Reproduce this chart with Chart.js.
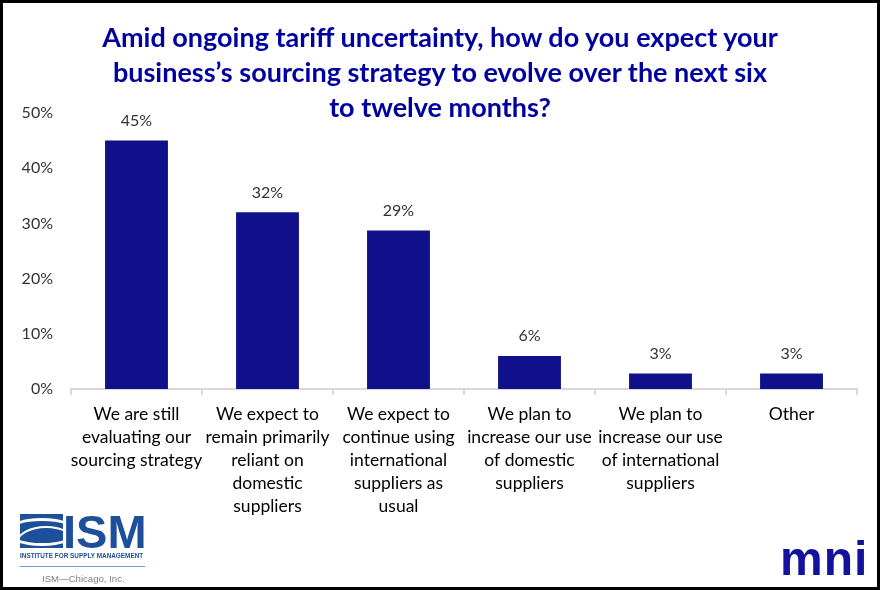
<!DOCTYPE html>
<html>
<head>
<meta charset="utf-8">
<script src="https://cdn.jsdelivr.net/npm/chart.js@4/dist/chart.umd.min.js"></script>
<style>
  body { margin: 0; background: #fff; }
  #frame { position: relative; width: 880px; height: 590px; overflow: hidden; background: #fff; }
  #chart { position: absolute; left: 0; top: 0; }
  #border { position: absolute; left: 0; top: 0; width: 880px; height: 590px; box-sizing: border-box; border: 3px solid #000; pointer-events: none; }
  #title { position: absolute; left: 0; top: 19px; width: 880px; text-align: center; font: bold 27px Lato, sans-serif; line-height: 35px; color: #0000a0; }
  .ism-icon { position: absolute; left: 20px; top: 514px; width: 43px; height: 34px; background: #1d4f9a; overflow: hidden; }
  .ism-icon .sw { position: absolute; border: 3px solid #fff; border-radius: 50%; }
  .ism-word { position: absolute; left: 63px; top: 504px; font: bold 47px "Liberation Sans", Arial, sans-serif; color: #1d4f9a; letter-spacing: 0px; }
  .ism-sub { position: absolute; left: 20px; top: 552px; font: bold 6.4px "Liberation Sans", Arial, sans-serif; color: #1d4f9a; white-space: nowrap; }
  .ism-line { position: absolute; left: 20px; top: 566px; width: 125px; height: 1px; background: #6a9bd6; }
  .ism-city { position: absolute; left: 42px; top: 573px; font: 9.6px "Liberation Sans", Arial, sans-serif; color: #808080; white-space: nowrap; }
  .mni { position: absolute; left: 780px; top: 531px; font: bold 48px "Liberation Sans", Arial, sans-serif; color: #12129e; letter-spacing: 1px; }
</style>
</head>
<body>
<div id="frame">
  <canvas id="chart" width="880" height="590"></canvas>
  <div id="title">Amid ongoing tariff uncertainty, how do you expect your<br>business’s sourcing strategy to evolve over the next six<br>to twelve months?</div>
  <div class="ism-icon">
    <div class="sw" style="left:-14px; top:4px; width:66px; height:22px;"></div>
    <div class="sw" style="left:-4px; top:12px; width:56px; height:30px; border-width:2px;"></div>
  </div>
  <div class="ism-word">ISM</div>
  <div class="ism-sub">INSTITUTE FOR SUPPLY MANAGEMENT</div>
  <div class="ism-line"></div>
  <div class="ism-city">ISM—Chicago, Inc.</div>
  <div class="mni">mni</div>
  <div id="border"></div>
</div>
<script>
  "use strict";

  const categories = [
    ['We are still', 'evaluating our', 'sourcing strategy'],
    ['We expect to', 'remain primarily', 'reliant on', 'domestic', 'suppliers'],
    ['We expect to', 'continue using', 'international', 'suppliers as', 'usual'],
    ['We plan to', 'increase our use', 'of domestic', 'suppliers'],
    ['We plan to', 'increase our use', 'of international', 'suppliers'],
    ['Other']
  ];
  const shares = [45, 32, 28.7, 6, 2.8, 2.8];
  const yTicks = [0, 10, 20, 30, 40, 50];

  const barColor = '#10108a';
  const textColor = '#333333';

  // value labels above each bar
  const valueLabels = {
    id: 'valueLabels',
    afterDatasetsDraw(chart) {
      const ctx = chart.ctx;
      const meta = chart.getDatasetMeta(0);
      ctx.save();
      ctx.font = '16px Lato, sans-serif';
      ctx.fillStyle = textColor;
      ctx.textAlign = 'center';
      ctx.textBaseline = 'middle';
      meta.data.forEach(function(bar, idx) {
        ctx.fillText(Math.round(shares[idx]) + '%', bar.x, bar.y - 20);
      });
      ctx.restore();
    }
  };

  const chart = new Chart(document.getElementById('chart'), {
    type: 'bar',
    data: {
      labels: categories,
      datasets: [{
        data: shares,
        backgroundColor: barColor,
        borderWidth: 0,
        categoryPercentage: 1,
        barPercentage: 0.48
      }]
    },
    options: {
      responsive: false,
      animation: false,
      layout: { padding: { left: 0, right: 23, top: 113, bottom: 0 } },
      plugins: {
        legend: { display: false },
        title: { display: false },
        tooltip: { enabled: false }
      },
      scales: {
        x: {
          afterFit: function(scale) { scale.height = 201; },
          grid: { display: true, drawOnChartArea: false, offset: true, tickLength: 6, color: '#d9d9d9', lineWidth: 2 },
          border: { display: true, color: '#d9d9d9', width: 2 },
          ticks: { color: '#000', font: { family: 'Lato, sans-serif', size: 17.5, lineHeight: 23 / 17.5 }, padding: 8, maxRotation: 0, autoSkip: false }
        },
        y: {
          min: yTicks[0],
          max: yTicks[yTicks.length - 1],
          afterFit: function(scale) { scale.width = 71; },
          afterBuildTicks: function(scale) { scale.ticks = yTicks.map(function(v) { return { value: v }; }); },
          grid: { display: false },
          border: { display: false },
          ticks: { color: textColor, font: { family: 'Lato, sans-serif', size: 16 }, padding: 10, callback: function(v) { return v + '%'; } }
        }
      }
    },
    plugins: [valueLabels]
  });
</script>
</body>
</html>
